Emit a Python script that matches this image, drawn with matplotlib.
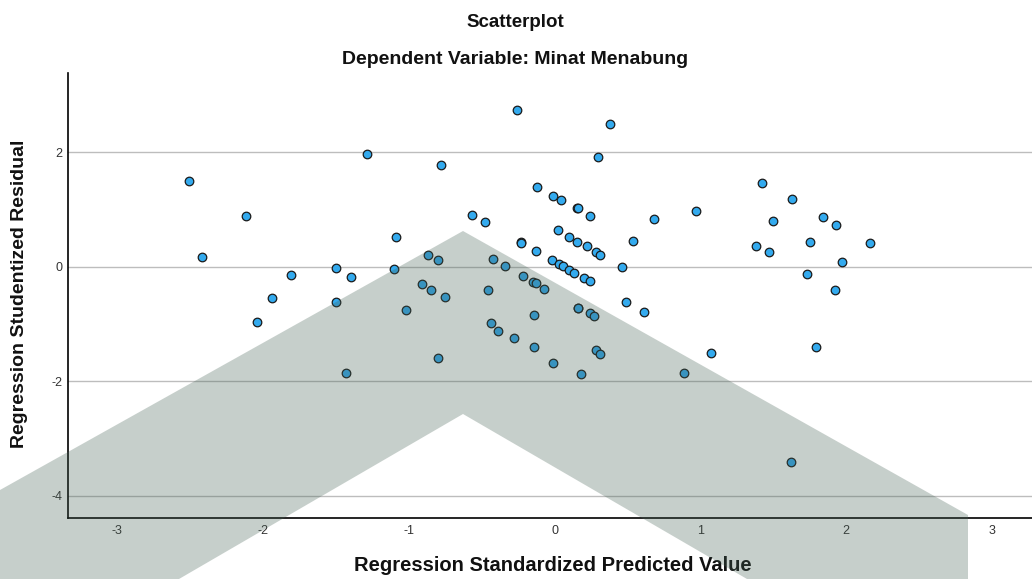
import matplotlib
matplotlib.use("Agg")
import matplotlib.pyplot as plt
from matplotlib.patches import Polygon

plt.rcParams['font.family'] = ['Liberation Sans', 'DejaVu Sans']
plt.rcParams['axes.unicode_minus'] = False

title = "Scatterplot"
subtitle = "Dependent Variable: Minat Menabung"
x_label = "Regression Standardized Predicted Value"
y_label = "Regression Studentized Residual"

x_ticks = [-3, -2, -1, 0, 1, 2, 3]
y_ticks = [-4, -2, 0, 2]

pred = [-2.51, -1.29, -2.12, -1.09, -2.42, -1.50, -1.10, -1.81, -1.40, -1.94,
        -1.50, -1.02, -2.04, -1.43, -0.26, 0.38, 0.30, -0.78, -0.12, -0.01,
        0.04, 0.15, 0.16, 0.24, 0.97, 0.68, -0.57, -0.48, 0.02, 0.10,
        0.15, 0.22, 0.28, 0.31, 0.54, -0.23, -0.23, -0.13, -0.02, 0.03,
        0.06, 0.10, 0.13, 0.20, 0.24, 0.46, -0.87, -0.80, -0.42, -0.34,
        -0.22, -0.15, -0.13, -0.07, -0.91, -0.85, -0.75, -0.46, 0.49, 0.61,
        0.16, 0.16, 0.24, 0.27, -0.14, -0.44, -0.39, -0.28, -0.14, 0.28,
        0.31, -0.80, -0.01, 0.18, 0.89, 1.42, 1.63, 1.50, 1.84, 1.93,
        1.38, 1.47, 1.75, 2.16, 1.97, 1.73, 1.92, 1.79, 1.07, 1.62]
resid = [1.49, 1.97, 0.89, 0.52, 0.17, -0.03, -0.04, -0.15, -0.18, -0.55,
         -0.61, -0.75, -0.97, -1.85, 2.73, 2.49, 1.92, 1.78, 1.39, 1.24,
         1.17, 1.03, 1.02, 0.89, 0.97, 0.83, 0.91, 0.78, 0.64, 0.52,
         0.44, 0.36, 0.26, 0.20, 0.45, 0.43, 0.42, 0.27, 0.12, 0.05,
         0.02, -0.05, -0.11, -0.19, -0.25, 0.00, 0.21, 0.11, 0.13, 0.01,
         -0.16, -0.27, -0.29, -0.39, -0.30, -0.40, -0.53, -0.40, -0.61, -0.80,
         -0.72, -0.73, -0.81, -0.86, -0.84, -0.98, -1.13, -1.25, -1.40, -1.46,
         -1.53, -1.60, -1.68, -1.87, -1.85, 1.47, 1.18, 0.79, 0.86, 0.73,
         0.37, 0.25, 0.43, 0.41, 0.09, -0.13, -0.41, -1.40, -1.50, -3.41]

fig = plt.figure(figsize=(10.32, 5.79), dpi=100)
ax = fig.add_axes([0.0662, 0.1059, 0.9338, 0.7675])

ax.set_xlim(-3.336, 3.274)
ax.set_ylim(-4.384, 3.378)
ax.set_xticks(x_ticks)
ax.set_yticks(y_ticks)
ax.tick_params(length=0, labelsize=9, colors='#333333')
ax.tick_params(axis='x', pad=5)
ax.tick_params(axis='y', pad=4)
ax.yaxis.grid(True, color='#BDBDBD', linewidth=1)
ax.set_axisbelow(True)
for s in ['top', 'right']:
    ax.spines[s].set_visible(False)
for s in ['left', 'bottom']:
    ax.spines[s].set_color('black')
    ax.spines[s].set_linewidth(1.2)

ax.scatter(pred, resid, s=38, facecolor='#33AAEE', edgecolor='#1A1A1A',
           linewidth=0.9, zorder=3)

fig.text(0.499, 0.962, title, ha='center', va='center', fontsize=13.5, fontweight='bold', color='#111111')
fig.text(0.499, 0.898, subtitle, ha='center', va='center', fontsize=14, fontweight='bold', color='#111111')
fig.text(0.536, 0.0225, x_label, ha='center', va='center', fontsize=14.5, fontweight='bold', color='#111111')
fig.text(0.019, 0.492, y_label, ha='center', va='center', rotation=90, fontsize=14, fontweight='bold', color='#111111')

# decorative watermark chevron (in figure pixel coords)
W, H = 1032.0, 579.0
wm = [(0, 490), (463, 231), (968, 515), (968, 579), (747, 579), (463, 414), (179, 579), (0, 579)]
wm_frac = [(px / W, 1 - py / H) for px, py in wm]
fig.add_artist(Polygon(wm_frac, closed=True, transform=fig.transFigure,
                       facecolor=(0.27, 0.38, 0.33), alpha=0.3, edgecolor='none', zorder=10))

fig.savefig("out.png", dpi=100)
